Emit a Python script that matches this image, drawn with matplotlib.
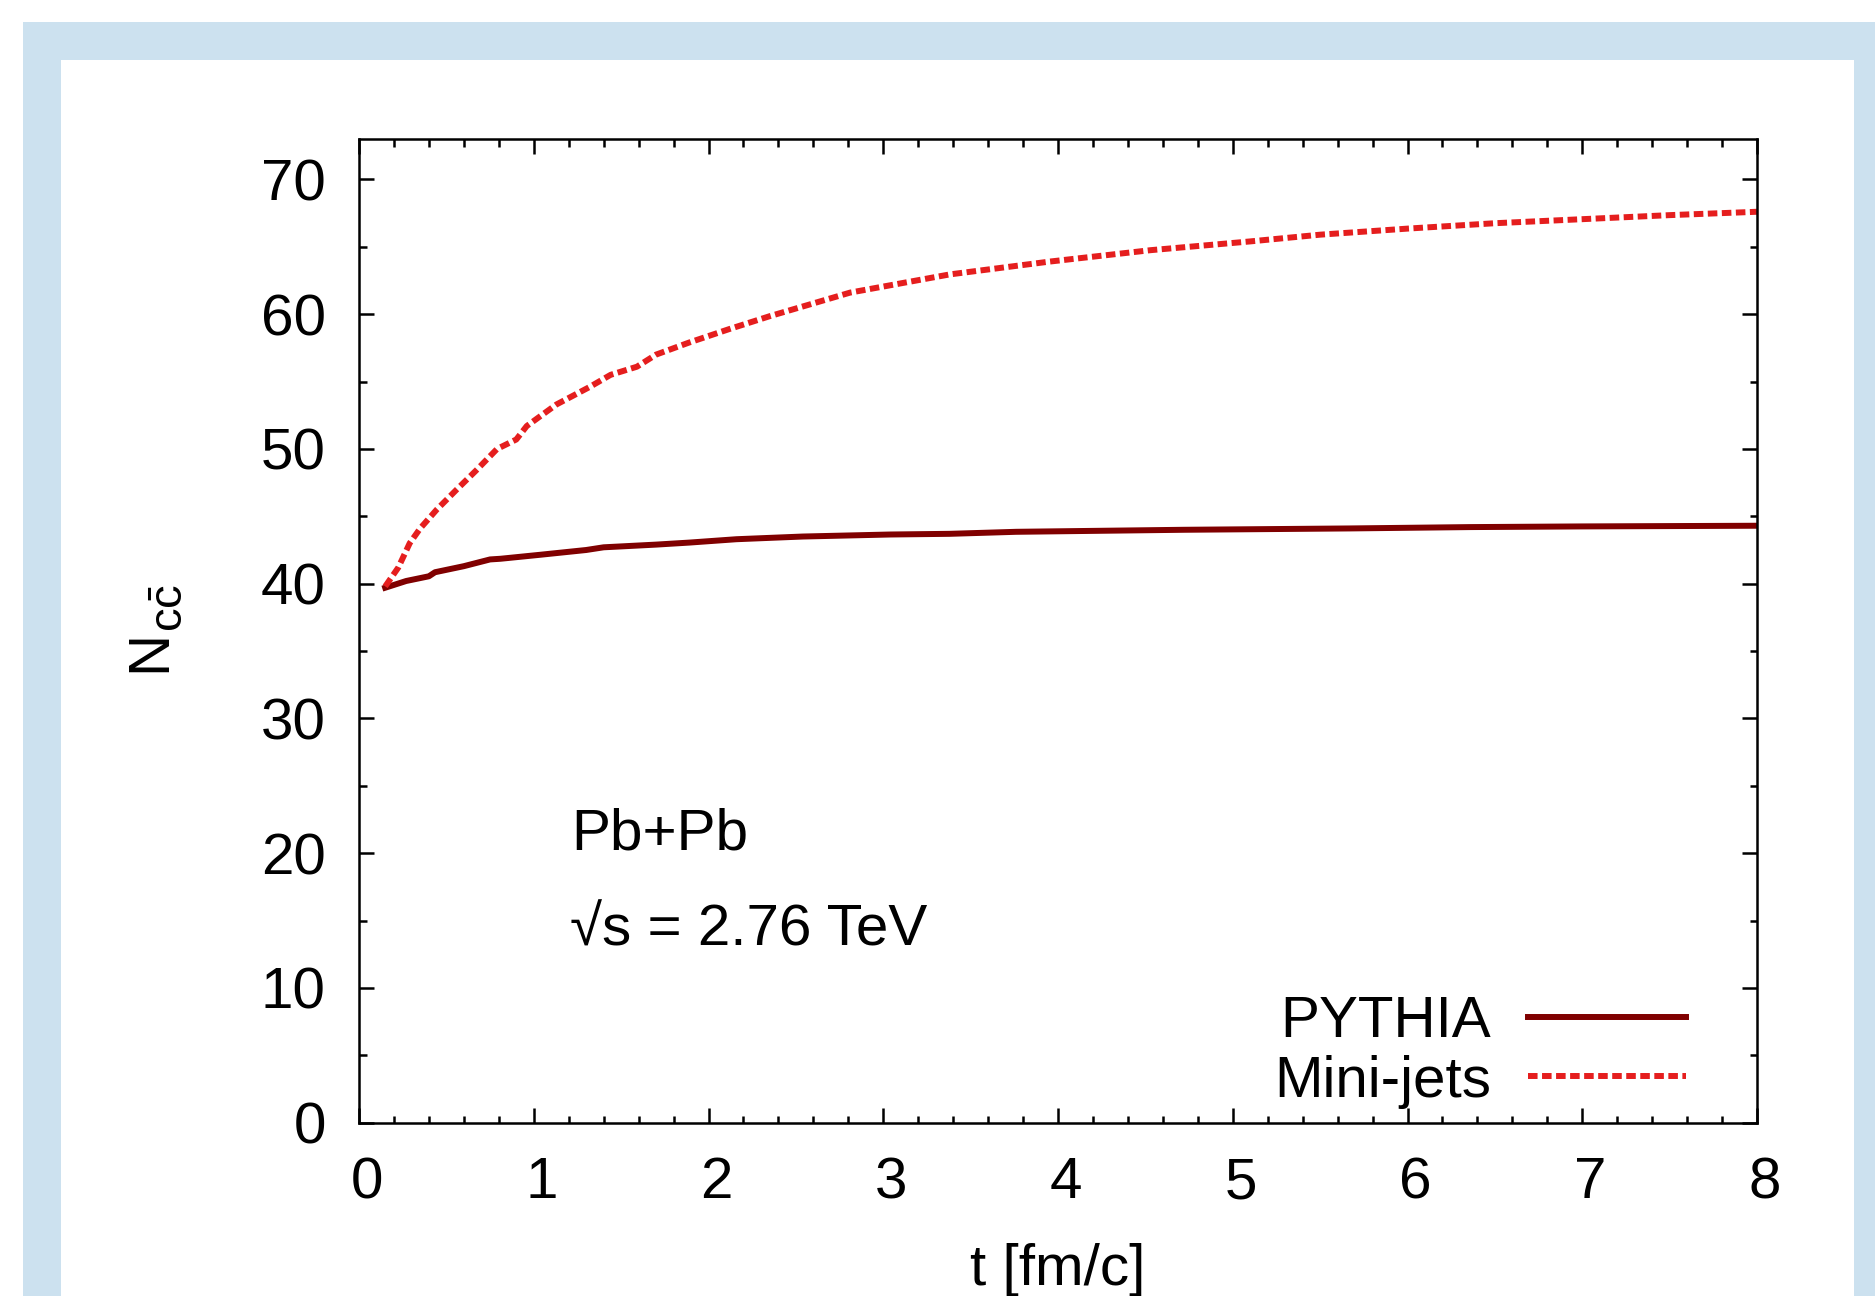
import matplotlib
matplotlib.use("Agg")
import matplotlib.pyplot as plt
from matplotlib.patches import Rectangle
from matplotlib.transforms import ScaledTranslation

# ---- data ----
t_minijets = [0.15, 0.225, 0.29, 0.35, 0.445, 0.56, 0.67, 0.79, 0.90, 0.96, 1.13, 1.32,
              1.44, 1.59, 1.70, 1.89, 2.12, 2.35, 2.81, 3.38, 3.95, 4.53, 5.10, 5.50,
              6.00, 6.50, 7.00, 7.50, 8.00]
n_minijets = [39.8, 41.2, 43.0, 44.1, 45.5, 47.0, 48.4, 50.0, 50.7, 51.7, 53.3, 54.6,
              55.5, 56.1, 57.0, 57.9, 58.9, 59.85, 61.6, 62.95, 63.9, 64.75, 65.4, 65.9,
              66.35, 66.75, 67.05, 67.35, 67.6]

t_pythia = [0.15, 0.27, 0.40, 0.435, 0.60, 0.75, 0.81, 1.04, 1.30, 1.40, 1.70, 1.89,
            2.16, 2.54, 3.04, 3.38, 3.76, 4.72, 5.67, 6.36, 7.00, 8.00]
n_pythia = [39.7, 40.2, 40.55, 40.85, 41.3, 41.8, 41.85, 42.15, 42.5, 42.7, 42.9, 43.05,
            43.3, 43.5, 43.65, 43.7, 43.85, 44.0, 44.1, 44.2, 44.25, 44.3]

x_ticks = [0, 1, 2, 3, 4, 5, 6, 7, 8]
y_ticks = [0, 10, 20, 30, 40, 50, 60, 70]

plt.rcParams['font.family'] = ['Liberation Sans', 'DejaVu Sans']
plt.rcParams['mathtext.fontset'] = 'custom'
plt.rcParams['mathtext.rm'] = 'Liberation Sans'
plt.rcParams['mathtext.it'] = 'Liberation Sans:italic'

FS = 42
W, H = 1875, 1296
fig = plt.figure(figsize=(W / 100, H / 100), dpi=100)

# background frame
fig.patches.append(Rectangle((23 / W, 0), 1.0, 1 - 22 / H, transform=fig.transFigure,
                             facecolor='#cce1ef', edgecolor='none', zorder=-10))
fig.patches.append(Rectangle((61 / W, 0), (1854 - 61) / W, 1 - 60 / H,
                             transform=fig.transFigure, facecolor='white',
                             edgecolor='none', zorder=-9))

ax = fig.add_axes([359 / W, 1 - 1122.7 / H, (1757 - 359) / W, (1122.7 - 139) / H])
ax.set_facecolor('none')

ax.plot(t_pythia, n_pythia, color='#800000', lw=4.3, solid_joinstyle='round', label='PYTHIA')
ax.plot(t_minijets, n_minijets, color='#e51e1e', lw=4.3, dashes=(1.6, 0.75), label='Mini-jets')

ax.set_xlim(0, 8)
ax.set_ylim(0, 73)
ax.set_xticks(x_ticks)
ax.set_yticks(y_ticks)
ax.set_xticks([i * 0.2 for i in range(41)], minor=True)
ax.set_yticks([i * 5 for i in range(15)], minor=True)
ax.tick_params(which='both', direction='in', top=True, right=True, width=1.8,
               labelsize=FS, pad=24)
ax.tick_params(which='major', length=10.8)
ax.tick_params(which='minor', length=5.4)
for s in ax.spines.values():
    s.set_linewidth(1.8)

# gnuplot-like slight right shift of x tick labels
shift = ScaledTranslation(8 / 100, 0, fig.dpi_scale_trans)
for lab in ax.get_xticklabels():
    lab.set_transform(lab.get_transform() + shift)

ax.set_xlabel('t [fm/c]', fontsize=FS)
ax.xaxis.set_label_coords(0.5, -0.122)

# y label: N with c c-bar subscript (gnuplot style, larger subscript)
fig.text(165 / W, 1 - 672 / H, 'N', fontsize=FS, rotation=90, rotation_mode='anchor',
         ha='left', va='baseline')
fig.text(183 / W, 1 - 632 / H, r'$\mathrm{c\bar{c}}$', fontsize=34, rotation=90,
         rotation_mode='anchor', ha='left', va='baseline')

ax.text(1.215, 20.25, 'Pb+Pb', fontsize=FS, va='baseline', ha='left')
ax.text(1.205, 13.15, '√s = 2.76 TeV', fontsize=FS, va='baseline', ha='left',
        family=['Liberation Sans', 'DejaVu Sans'])

ax.legend(loc='center right', bbox_to_anchor=(0.949, 0.072), frameon=False,
          markerfirst=False, fontsize=FS, handlelength=2.71, handletextpad=0.63,
          labelspacing=0.1, borderpad=0, borderaxespad=0)

fig.savefig('out.png', dpi=100)
